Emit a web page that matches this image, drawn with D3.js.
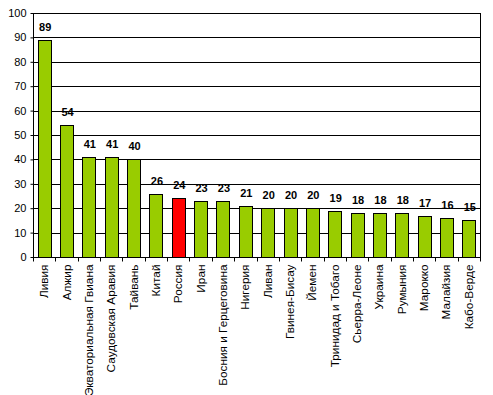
<!DOCTYPE html>
<html>
<head>
<meta charset="utf-8">
<script src="https://cdn.jsdelivr.net/npm/d3@7"></script>
<style>
  body { margin: 0; background: #fff; }
  text { font-family: "Liberation Sans", Arial, sans-serif; }
</style>
</head>
<body>
<div id="chart"></div>
<script>
const countries = ["Ливия", "Алжир", "Экваториальная Гвиана", "Саудовская Аравия", "Тайвань",
  "Китай", "Россия", "Иран", "Босния и Герцеговина", "Нигерия", "Ливан", "Гвинея-Бисау",
  "Йемен", "Тринидад и Тобаго", "Сьерра-Леоне", "Украина", "Румыния", "Марокко",
  "Малайзия", "Кабо-Верде"];
const values = [89, 54, 41, 41, 40, 26, 24, 23, 23, 21, 20, 20, 20, 19, 18, 18, 18, 17, 16, 15];
const highlight = ["Россия"];
const yTicks = [0, 10, 20, 30, 40, 50, 60, 70, 80, 90, 100];

const w = 493, h = 395;
const margin = { top: 13, right: 13, bottom: 138, left: 33 };

const svg = d3.select("#chart").append("svg")
  .attr("width", w)
  .attr("height", h);

const xScale = d3.scaleBand()
  .domain(countries)
  .range([margin.left, w - margin.right])
  .paddingInner(0.42)
  .paddingOuter(0.21);

const yScale = d3.scaleLinear()
  .domain([0, 100])
  .range([h - margin.bottom, margin.top]);

// grid lines
svg.append("g")
  .selectAll("line")
  .data(yTicks.slice(1))
  .enter()
  .append("line")
  .attr("x1", margin.left)
  .attr("x2", w - margin.right)
  .attr("y1", d => Math.round(yScale(d)) + 0.5)
  .attr("y2", d => Math.round(yScale(d)) + 0.5)
  .attr("stroke", "#000")
  .attr("stroke-width", 1);

// right border
svg.append("line")
  .attr("x1", w - margin.right + 0.5)
  .attr("x2", w - margin.right + 0.5)
  .attr("y1", margin.top)
  .attr("y2", h - margin.bottom)
  .attr("stroke", "#000");

// bars
svg.selectAll("rect.bar")
  .data(values)
  .enter()
  .append("rect")
  .attr("class", "bar")
  .attr("x", (d, i) => Math.round(xScale(countries[i])) + 0.5)
  .attr("y", d => Math.round(yScale(d)) + 0.5)
  .attr("width", Math.round(xScale.bandwidth()))
  .attr("height", d => Math.round(yScale(0)) - Math.round(yScale(d)))
  .attr("fill", (d, i) => highlight.includes(countries[i]) ? "#ff0000" : "#99cc00")
  .attr("stroke", "#000")
  .attr("stroke-width", 1);

// value labels
svg.selectAll("text.val")
  .data(values)
  .enter()
  .append("text")
  .attr("class", "val")
  .attr("x", (d, i) => xScale(countries[i]) + xScale.bandwidth() / 2 + 1)
  .attr("y", d => yScale(d) - 9)
  .attr("text-anchor", "middle")
  .attr("font-size", "11px")
  .attr("font-weight", "bold")
  .text(d => d);

// y axis
const yAxis = d3.axisLeft(yScale).tickValues(yTicks).tickSize(3).tickPadding(4);
svg.append("g")
  .attr("transform", "translate(" + (margin.left + 0.5) + ",0)")
  .call(yAxis)
  .call(g => g.select(".domain").attr("d", "M0," + margin.top + "V" + (h - margin.bottom)))
  .call(g => g.selectAll("text").attr("font-size", "11px").attr("font-family", "Liberation Sans, Arial, sans-serif"));

// x axis
const bottomY = Math.round(yScale(0)) + 0.5;
svg.append("line")
  .attr("x1", margin.left)
  .attr("x2", w - margin.right + 1)
  .attr("y1", bottomY)
  .attr("y2", bottomY)
  .attr("stroke", "#000");

const step = xScale.step();
const bounds = d3.range(countries.length + 1).map(i => margin.left + i * step);
svg.append("g")
  .selectAll("line")
  .data(bounds)
  .enter()
  .append("line")
  .attr("x1", d => Math.round(d) + 0.5)
  .attr("x2", d => Math.round(d) + 0.5)
  .attr("y1", bottomY)
  .attr("y2", bottomY + 4)
  .attr("stroke", "#000");

svg.append("g")
  .selectAll("text")
  .data(countries)
  .enter()
  .append("text")
  .attr("transform", d => "translate(" + (xScale(d) + xScale.bandwidth() / 2 + 4) + "," + (bottomY + 7) + ") rotate(-90)")
  .attr("text-anchor", "end")
  .attr("font-size", "11.8px")
  .text(d => d);
</script>
</body>
</html>
